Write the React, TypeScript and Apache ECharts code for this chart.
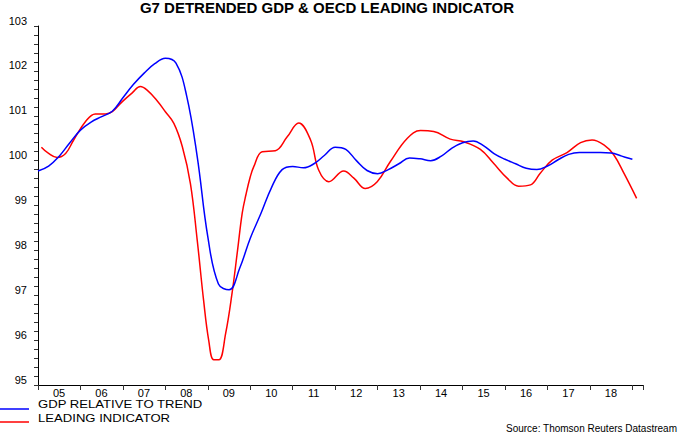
import React, { useEffect, useRef } from "react";
import * as echarts from "echarts";

// GDP relative to trend, quarterly, first quarter 2005 onward
const gdpStartYear = 2005;
const gdpValues = [
  99.77, 99.88, 100.1, 100.4,
  100.68, 100.86, 100.98, 101.1,
  101.4, 101.7, 101.95, 102.16,
  102.28, 102.17, 101.45, 100.09,
  98.3, 97.25, 97.12, 97.6,
  98.27, 98.82, 99.4, 99.8,
  99.87, 99.84, 99.93, 100.12,
  100.3, 100.25, 100.0, 99.78,
  99.71, 99.8, 99.93, 100.06,
  100.04, 100.0, 100.1, 100.28,
  100.4, 100.44, 100.33, 100.15,
  100.03, 99.93, 99.83, 99.8,
  99.88, 100.02, 100.14, 100.18,
  100.18, 100.18, 100.17, 100.1,
  100.03,
];

// OECD leading indicator, read at these dates (fractional years)
const ledDates = [
  2005.08, 2005.25, 2005.45, 2005.65, 2005.84, 2006.12, 2006.35, 2006.59, 2006.75, 2006.98,
  2007.22, 2007.41, 2007.57, 2007.81, 2008.0, 2008.2, 2008.4, 2008.59, 2008.75, 2008.9,
  2009.02, 2009.14, 2009.26, 2009.42, 2009.57, 2009.7, 2009.81, 2009.9, 2010.0, 2010.08,
  2010.28, 2010.59, 2010.87, 2011.14, 2011.42, 2011.61, 2011.85, 2012.2, 2012.44, 2012.71,
  2012.99, 2013.3, 2013.7, 2014.01, 2014.32, 2014.71, 2015.03, 2015.42, 2015.73, 2016.05,
  2016.32, 2016.6, 2016.83, 2017.11, 2017.46, 2017.78, 2018.05, 2018.33, 2018.56, 2018.8,
  2019.1,
];
const ledValues = [
  100.3, 100.16, 100.07, 100.16, 100.46, 100.87, 101.04, 101.04, 101.09, 101.31,
  101.51, 101.65, 101.57, 101.33, 101.09, 100.83, 100.31, 99.49, 98.23, 96.89,
  96.0, 95.56, 95.56, 96.15, 97.04, 98.0, 98.83, 99.25, 99.64, 99.86,
  100.2, 100.22, 100.53, 100.84, 100.46, 99.79, 99.53, 99.77, 99.61, 99.38,
  99.53, 99.98, 100.5, 100.67, 100.65, 100.48, 100.42, 100.25, 99.94, 99.61,
  99.43, 99.46, 99.72, 100.01, 100.18, 100.4, 100.46, 100.35, 100.13, 99.72,
  99.16,
];

const seriesNames = ["GDP RELATIVE TO TREND", "LEADING INDICATOR"];
const titleText = "G7 DETRENDED GDP & OECD LEADING INDICATOR";
const sourceText = "Source: Thomson Reuters Datastream";
const xMin = 2005;
const xMax = 2019.25;
const yMin = 95;
const yMax = 103;

const FONT = '"Liberation Sans", Arial, sans-serif';

export default function App() {
  const ref = useRef<HTMLDivElement | null>(null);

  useEffect(() => {
    if (!ref.current) return;
    const chart = echarts.init(ref.current, undefined, { renderer: "svg" });

    const gdpData = gdpValues.map((v, i) => [gdpStartYear + i / 4, v]);
    const ledData = ledValues.map((v, i) => [ledDates[i], v]);

    const legendText = (text: string, y: number) => ({
      type: "text",
      x: 38,
      y,
      scaleX: 1.14,
      scaleY: 1,
      style: {
        text,
        fill: "#000",
        fontFamily: FONT,
        fontSize: 11.5,
        align: "left",
        verticalAlign: "middle",
      },
    });

    chart.setOption({
      animation: false,
      backgroundColor: "#ffffff",
      title: {
        text: titleText,
        left: 327,
        top: 0,
        textAlign: "center",
        padding: 0,
        textStyle: {
          fontFamily: FONT,
          fontSize: 15,
          fontWeight: "bold",
          color: "#000",
        },
      },
      grid: { left: 38, right: 37, top: 26, bottom: 49, containLabel: false },
      xAxis: {
        type: "value",
        min: xMin,
        max: xMax,
        interval: 1,
        splitLine: { show: false },
        axisLine: { show: true, lineStyle: { color: "#000", width: 1 } },
        axisTick: { show: true, inside: false, length: 5, lineStyle: { color: "#333" } },
        axisLabel: {
          show: true,
          margin: 2,
          fontFamily: FONT,
          fontSize: 11,
          color: "#000",
          padding: [0, 0, 0, 42],
          formatter: (v: number) => (v >= 2019 || v % 1 !== 0 ? "" : String(v).slice(2)),
        },
      },
      yAxis: {
        type: "value",
        min: yMin,
        max: yMax,
        interval: 1,
        splitLine: { show: false },
        axisLine: { show: true, lineStyle: { color: "#000", width: 1 } },
        axisTick: { show: true, inside: false, length: 4, lineStyle: { color: "#333" } },
        minorTick: { show: true, splitNumber: 5, length: 4, lineStyle: { color: "#333" } },
        minorSplitLine: { show: false },
        axisLabel: {
          margin: 11,
          fontFamily: FONT,
          fontSize: 11,
          color: "#000",
          verticalAlign: "bottom",
        },
      },
      series: [
        {
          name: seriesNames[0],
          type: "line",
          data: gdpData,
          smooth: 0.4,
          showSymbol: false,
          symbol: "none",
          lineStyle: { color: "#0000ff", width: 1.5 },
          itemStyle: { color: "#0000ff" },
          z: 3,
        },
        {
          name: seriesNames[1],
          type: "line",
          data: ledData,
          smooth: 0.4,
          showSymbol: false,
          symbol: "none",
          lineStyle: { color: "#ff0000", width: 1.5 },
          itemStyle: { color: "#ff0000" },
          z: 2,
        },
      ],
      graphic: [
        {
          type: "line",
          shape: { x1: 0, y1: 409, x2: 29, y2: 409 },
          style: { stroke: "#0000ff", lineWidth: 1.5 },
        },
        {
          type: "line",
          shape: { x1: 0, y1: 422, x2: 29, y2: 422 },
          style: { stroke: "#ff0000", lineWidth: 1.5 },
        },
        legendText(seriesNames[0], 404.5),
        legendText(seriesNames[1], 418),
        {
          type: "text",
          x: 677,
          y: 428,
          style: {
            text: sourceText,
            fill: "#000",
            fontFamily: FONT,
            fontSize: 10,
            align: "right",
            verticalAlign: "middle",
          },
        },
      ],
    });

    return () => {
      chart.dispose();
    };
  }, []);

  return (
    <div
      ref={ref}
      style={{ position: "fixed", left: 0, top: 0, width: 680, height: 434, background: "#fff" }}
    />
  );
}
